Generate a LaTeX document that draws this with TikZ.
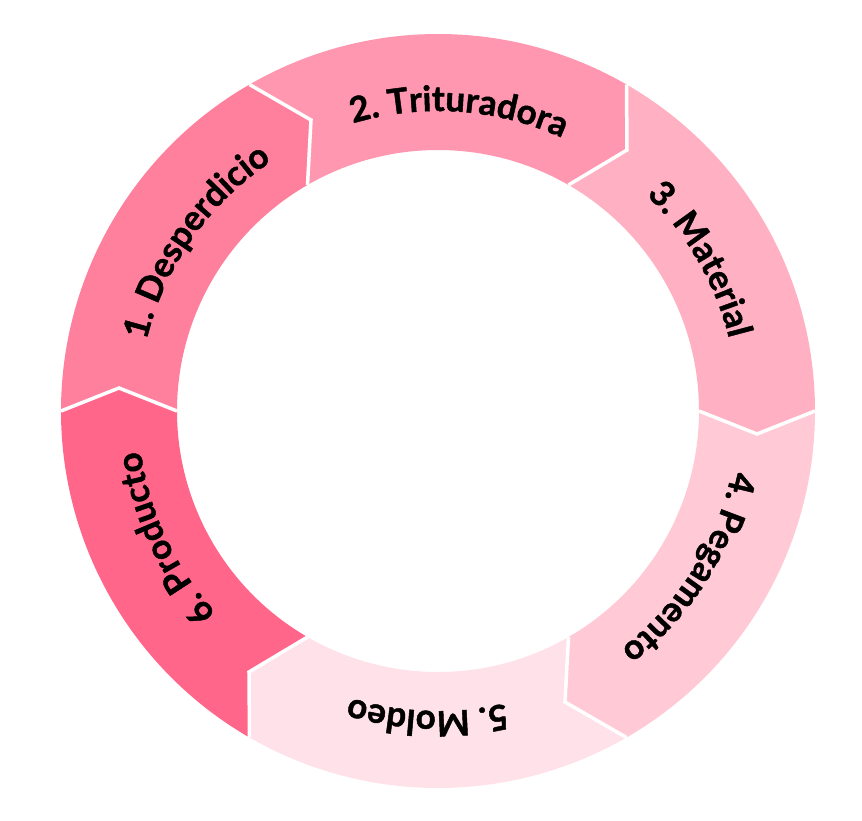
\documentclass[tikz,border=0pt]{standalone}
\usepackage{fontspec}
\setsansfont{Lato}[BoldFeatures={FakeBold=1.3}]
\usetikzlibrary{decorations.text}
\definecolor{segA}{HTML}{FF809C}
\definecolor{segB}{HTML}{FF97B0}
\definecolor{segC}{HTML}{FFB1C3}
\definecolor{segD}{HTML}{FFC9D6}
\definecolor{segE}{HTML}{FFE2E9}
\definecolor{segF}{HTML}{FF6689}
\newcommand\lblfont{\sffamily\bfseries\fontsize{35}{35}\selectfont}
\tikzset{
  sepline/.style={draw=white,line width=3.5pt,line join=miter},
  lbl/.style={decorate,decoration={text along path,text align=center,text={|\lblfont|#1}}}
}
\begin{document}
\begin{tikzpicture}[x=1pt,y=1pt]
\useasboundingbox (-438,-409) rectangle (424,411);
\def\Ro{377}
\def\Ri{261}
\def\Rt{300}
% chevron tips
\coordinate (t180) at (-319,23);
\coordinate (t120) at (-127,291);
\coordinate (t60) at (189,261);
\coordinate (t0) at (319,-23);
\coordinate (t300) at (127,-291);
\coordinate (t240) at (-189,-261);
% segments
\fill[segA] (180:\Ro) arc[start angle=180,end angle=120,radius=\Ro] -- (t120) -- (120:\Ri) arc[start angle=120,end angle=180,radius=\Ri] -- (t180) -- cycle;
\fill[segB] (120:\Ro) arc[start angle=120,end angle=60,radius=\Ro] -- (t60) -- (60:\Ri) arc[start angle=60,end angle=120,radius=\Ri] -- (t120) -- cycle;
\fill[segC] (60:\Ro) arc[start angle=60,end angle=0,radius=\Ro] -- (t0) -- (0:\Ri) arc[start angle=0,end angle=60,radius=\Ri] -- (t60) -- cycle;
\fill[segD] (0:\Ro) arc[start angle=0,end angle=-60,radius=\Ro] -- (t300) -- (-60:\Ri) arc[start angle=-60,end angle=0,radius=\Ri] -- (t0) -- cycle;
\fill[segE] (-60:\Ro) arc[start angle=-60,end angle=-120,radius=\Ro] -- (t240) -- (-120:\Ri) arc[start angle=-120,end angle=-60,radius=\Ri] -- (t300) -- cycle;
\fill[segF] (-120:\Ro) arc[start angle=-120,end angle=-180,radius=\Ro] -- (t180) -- (-180:\Ri) arc[start angle=-180,end angle=-120,radius=\Ri] -- (t240) -- cycle;
% separators
\draw[sepline] (180:\Ro) -- (t180) -- (180:\Ri);
\draw[sepline] (120:\Ro) -- (t120) -- (120:\Ri);
\draw[sepline] (60:\Ro) -- (t60) -- (60:\Ri);
\draw[sepline] (0:\Ro) -- (t0) -- (0:\Ri);
\draw[sepline] (-60:\Ro) -- (t300) -- (-60:\Ri);
\draw[sepline] (-120:\Ro) -- (t240) -- (-120:\Ri);
% labels
\path[lbl={1. Desperdicio}] (195:\Rt) arc[start angle=195,end angle=95,radius=\Rt];
\path[lbl={2. Trituradora}] (136:\Rt) arc[start angle=136,end angle=36,radius=\Rt];
\path[lbl={3. Material}] (80:\Rt) arc[start angle=80,end angle=-20,radius=\Rt];
\path[lbl={4. Pegamento}] (18:\Rt) arc[start angle=18,end angle=-82,radius=\Rt];
\path[lbl={5. Moldeo}] (-42:\Rt) arc[start angle=-42,end angle=-142,radius=\Rt];
\path[lbl={6. Producto}] (-105:\Rt) arc[start angle=-105,end angle=-205,radius=\Rt];
\end{tikzpicture}
\end{document}
